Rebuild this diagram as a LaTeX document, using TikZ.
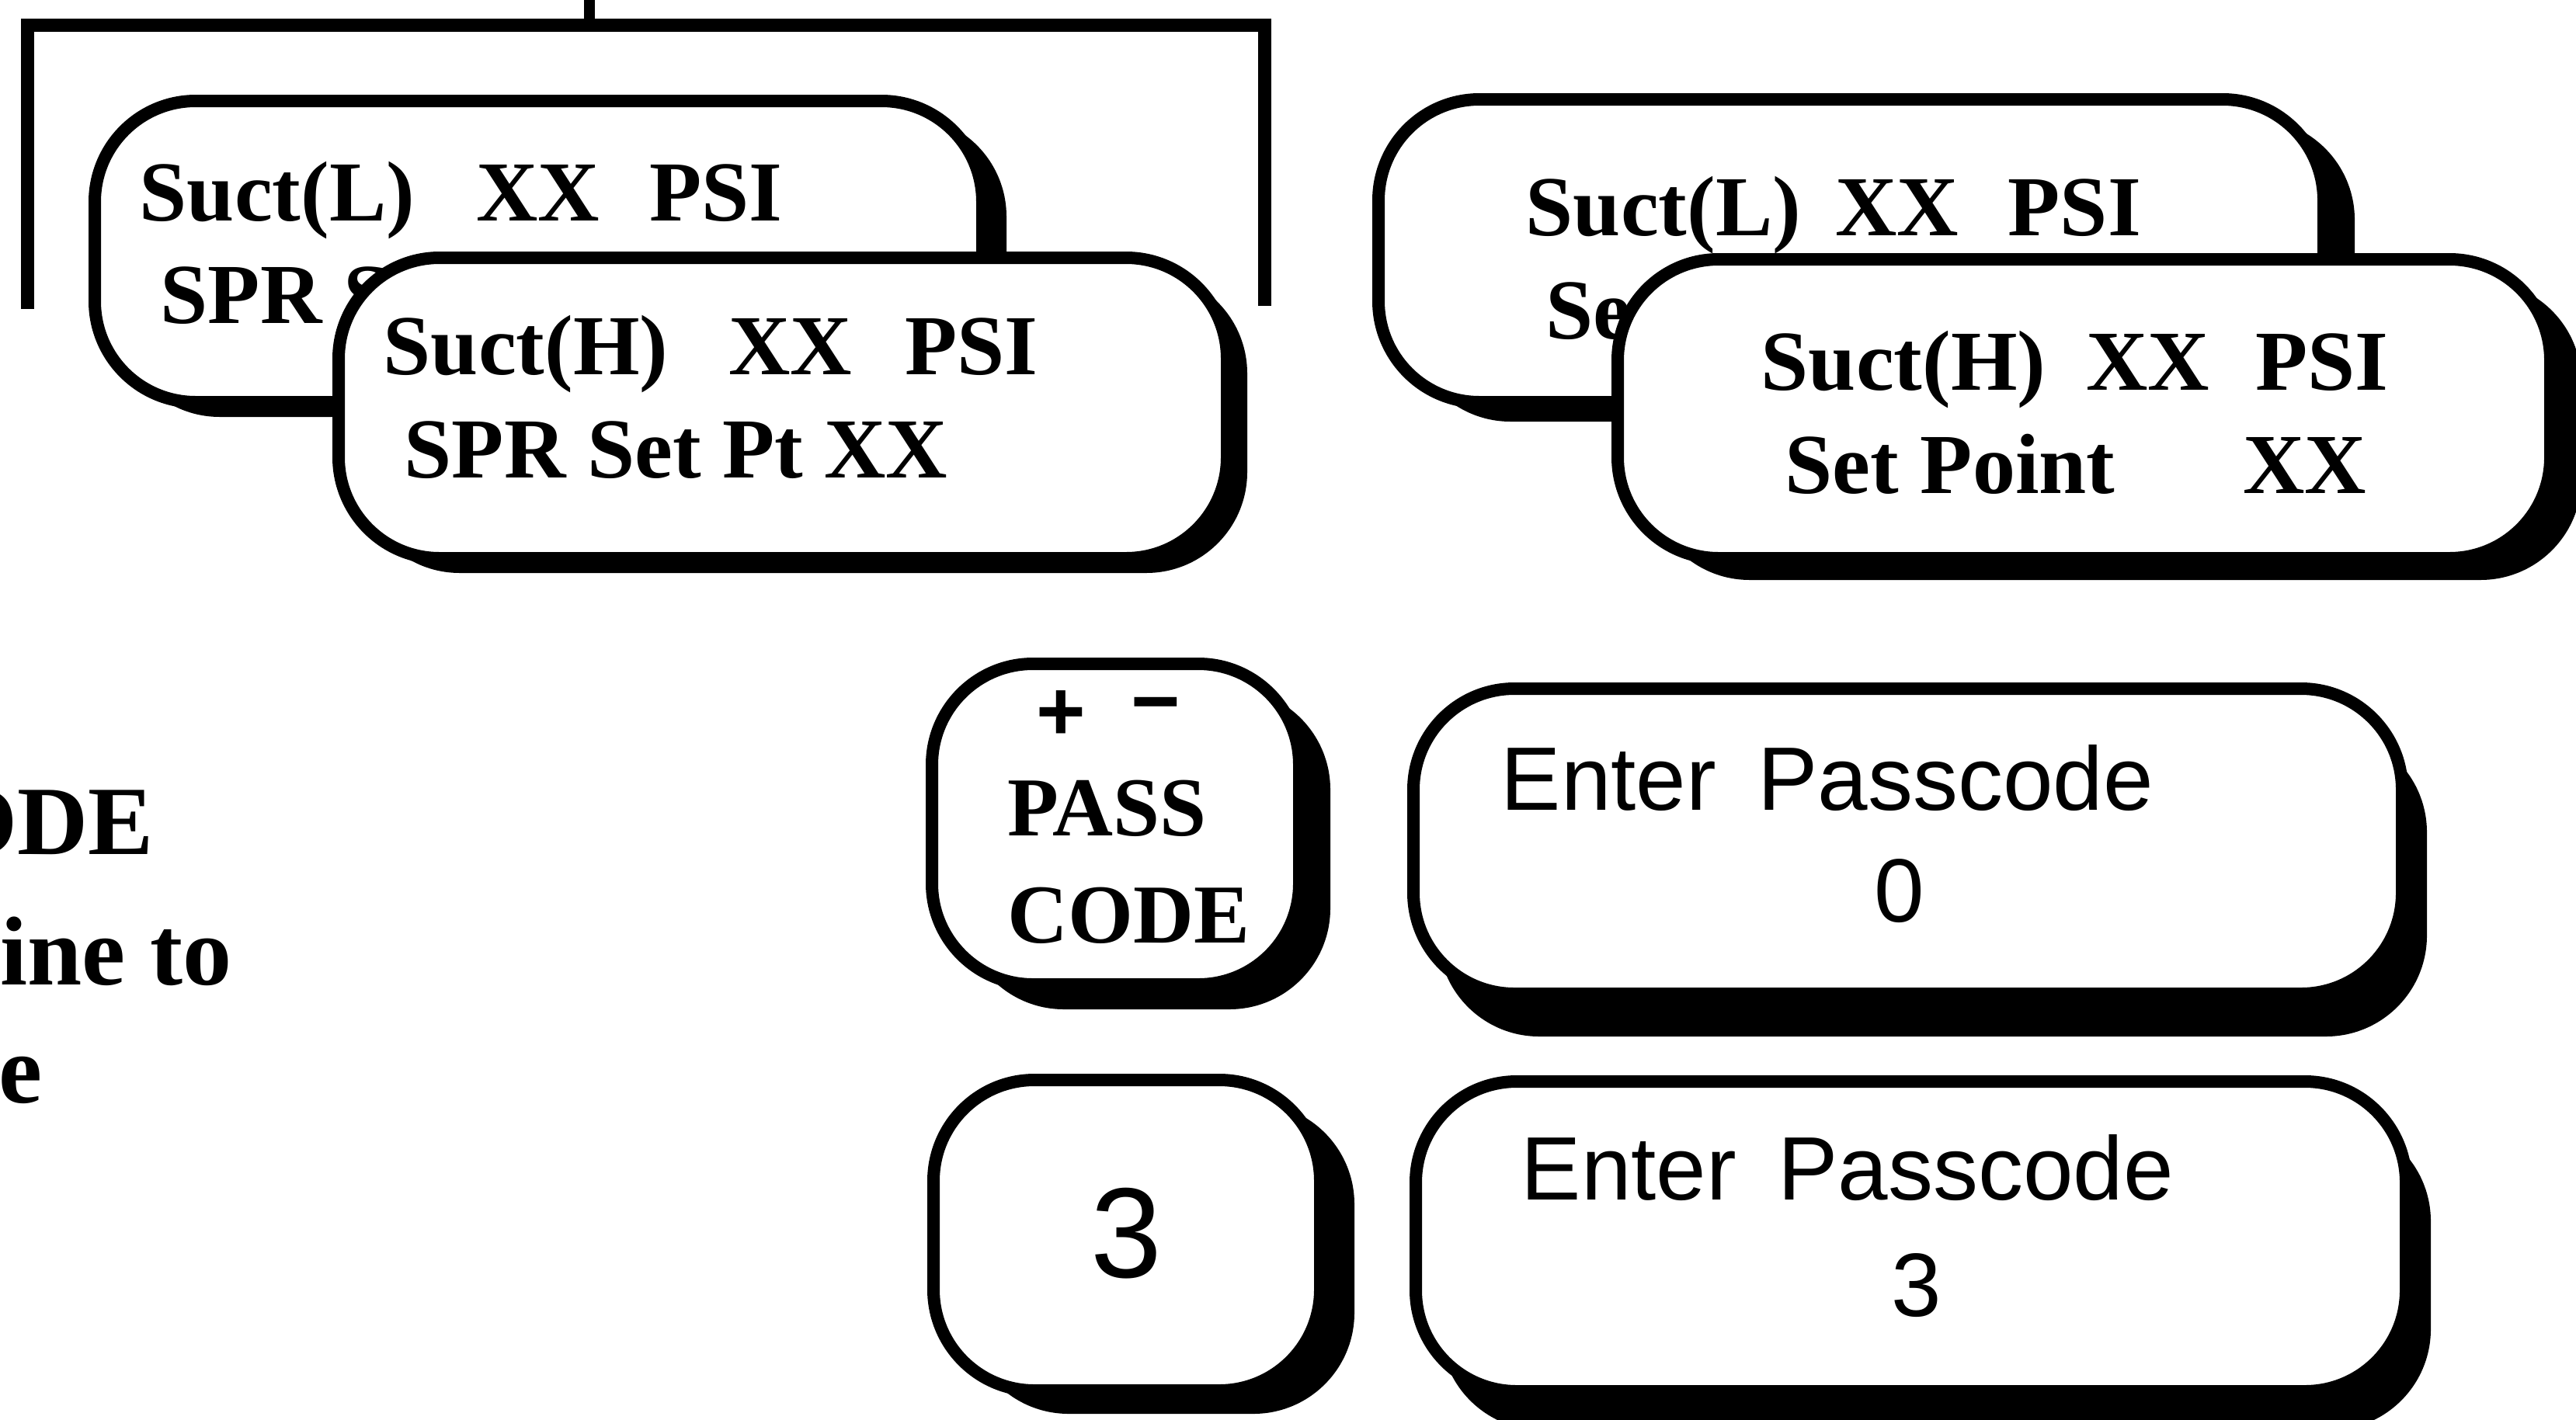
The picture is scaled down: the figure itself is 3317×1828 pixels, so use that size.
\documentclass[tikz,border=0pt]{standalone}
\usepackage{fontspec}
\setmainfont{Liberation Serif}
\newfontfamily\sansf{Liberation Sans}
\usetikzlibrary{shadows}
\newcommand\suctf{\fontsize{31.3pt}{36pt}\selectfont\bfseries}
\newcommand\keyf{\fontsize{30.7pt}{36pt}\selectfont\bfseries}
\newcommand\leftf{\fontsize{35.9pt}{40pt}\selectfont\bfseries}
\newcommand\dispf{\sansf\fontsize{33pt}{38pt}\selectfont}
\newcommand\bigdigf{\sansf\fontsize{47pt}{52pt}\selectfont}
\newcommand\pmf{\sansf\fontsize{31pt}{36pt}\selectfont\bfseries}
\tikzset{
  box/.style 2 args={draw, line width=1.6mm, fill=white, rounded corners=13mm,
    inner sep=0pt, drop shadow={shadow xshift=#1, shadow yshift=-#2, opacity=1, fill=black}},
  txt/.style={anchor=base west, inner sep=0pt},
  ctxt/.style={anchor=base, inner sep=0pt},
  bracket/.style={line width=1.7mm, line cap=butt, line join=miter},
}
\begin{document}
\begin{tikzpicture}[x=0.1mm, y=-0.1mm]
\useasboundingbox (0,0) rectangle (3317,1828);

% bracket
\coordinate (bl) at (35,398);
\coordinate (tl) at (35,32);
\coordinate (tr) at (1628,32);
\coordinate (br) at (1628,394);
\coordinate (tickT) at (759,-10);
\coordinate (tickB) at (759,32);
\draw[bracket] (bl) -- (tl) -- (tr) -- (br);
\draw[line width=1.4mm] (tickT) -- (tickB);

% left pair
\node[box={3.1mm}{1.9mm}, minimum width=114.3mm, minimum height=38.8mm] (L1) at (693.5,324) {};
\node[txt, font=\suctf] (l1a) at (179,284) {Suct(L)\hspace{0.72em}XX\hspace{0.58em}PSI};
\node[txt, font=\suctf] (l1b) at (206,416) {SPR S};
\node[box={2.6mm}{1.9mm}, minimum width=114.4mm, minimum height=38.7mm] (L2) at (1008,525.5) {};
\node[txt, font=\suctf] (l2a) at (493,482) {Suct(H)\hspace{0.71em}XX\hspace{0.62em}PSI};
\node[txt, font=\suctf] (l2b) at (520,615) {SPR Set Pt XX};

% right pair
\node[box={4mm}{2.5mm}, minimum width=121.7mm, minimum height=39mm] (R1) at (2383.5,323) {};
\node[txt, font=\suctf] (r1a) at (1964,303) {Suct(L)\hspace{0.4em}XX\hspace{0.58em}PSI};
\node[txt, font=\suctf] (r1b) at (1990,436) {Se};
\node[box={4mm}{2.8mm}, minimum width=120.1mm, minimum height=38.5mm] (R2) at (2683.5,526.5) {};
\node[txt, font=\suctf] (r2a) at (2267,502) {Suct(H)\hspace{0.47em}XX\hspace{0.54em}PSI};
\node[txt, font=\suctf] (r2b) at (2298,635) {Set Point\hspace{1.5em}XX};

% keys
\node[box={4mm}{3.2mm}, minimum width=47.3mm, minimum height=41.3mm] (K1) at (1436.5,1061.5) {};
\node[anchor=center, inner sep=0pt, font=\pmf] (kplus) at (1366,922) {+};
\node[anchor=center, inner sep=0pt, font=\pmf] (kminus) at (1488,919) {−};
\node[txt, font=\keyf] (kpass) at (1297,1076) {PASS};
\node[txt, font=\keyf] (kcode) at (1297,1214) {CODE};
\node[box={4.4mm}{3mm}, minimum width=49.8mm, minimum height=40mm] (K2) at (1451,1591) {};
\node[ctxt, font=\bigdigf] (kthree) at (1450,1645) {3};

% displays
\node[box={3.2mm}{5.5mm}, minimum width=127.3mm, minimum height=39.3mm] (D1) at (2456.5,1083.5) {};
\node[txt, font=\dispf] (d1a) at (1932,1043) {Enter\hspace{0.46em}Passcode};
\node[ctxt, font=\dispf] (d1b) at (2446,1187) {0};
\node[box={3.2mm}{5mm}, minimum width=127.5mm, minimum height=39.9mm] (D2) at (2460.5,1592.5) {};
\node[txt, font=\dispf] (d2a) at (1958,1545) {Enter\hspace{0.46em}Passcode};
\node[ctxt, font=\dispf] (d2b) at (2468,1695) {3};

% clipped left text
\node[txt, font=\leftf] (lt1) at (-76,1100) {ODE};
\node[txt, font=\leftf] (lt2) at (0,1268) {ine to};
\node[txt, font=\leftf] (lt3) at (-2,1420) {e};
\end{tikzpicture}
\end{document}
